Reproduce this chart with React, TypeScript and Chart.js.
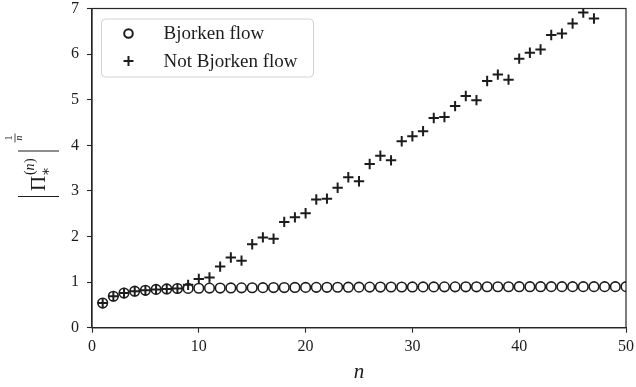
import React, { useEffect, useRef } from "react";
import { Chart, registerables } from "chart.js";

Chart.register(...registerables);

// n = 1 .. 50
const bjorkenFlow: number[] = [
  0.54, 0.69, 0.76, 0.8, 0.82, 0.84, 0.85, 0.86, 0.862, 0.865,
  0.868, 0.87, 0.872, 0.874, 0.876, 0.878, 0.88, 0.881, 0.883, 0.884,
  0.885, 0.886, 0.887, 0.888, 0.889, 0.89, 0.891, 0.892, 0.893, 0.894,
  0.895, 0.895, 0.896, 0.896, 0.897, 0.897, 0.898, 0.898, 0.898, 0.899,
  0.899, 0.899, 0.9, 0.9, 0.9, 0.9, 0.9, 0.9, 0.9, 0.9,
];

// n = 1 .. 47 (higher n leave the plotted range)
const notBjorkenFlow: number[] = [
  0.54, 0.69, 0.76, 0.8, 0.82, 0.84, 0.85, 0.86, 0.94, 1.07,
  1.1, 1.34, 1.54, 1.47, 1.83, 1.98, 1.95, 2.32, 2.42, 2.51,
  2.81, 2.83, 3.07, 3.3, 3.21, 3.59, 3.77, 3.67, 4.09, 4.2,
  4.31, 4.6, 4.62, 4.86, 5.08, 4.99, 5.41, 5.55, 5.44, 5.9,
  6.03, 6.1, 6.42, 6.45, 6.67, 6.91, 6.78,
];

const legendLabels: string[] = ["Bjorken flow", "Not Bjorken flow"];
const xTickStep = 10;
const yTickStep = 1;
const xRange: number[] = [0, 50];
const yRange: number[] = [0, 7];

const SERIF = "'Liberation Serif', 'DejaVu Serif', serif";
const INK = "#1c1c1c";

const toPoints = (vals: number[]) => vals.map((v, i) => ({ x: i + 1, y: v }));

const framePlugin = {
  id: "frame",
  afterDatasetsDraw(chart: any) {
    const { ctx, chartArea: a } = chart;
    ctx.save();
    ctx.strokeStyle = "#262626";
    ctx.lineWidth = 1.2;
    ctx.strokeRect(a.left, a.top, a.right - a.left, a.bottom - a.top);
    ctx.restore();
  },
};

const legendPlugin = {
  id: "innerLegend",
  afterDraw(chart: any) {
    const { ctx, chartArea: a } = chart;
    const bx = a.left + 9.5;
    const by = a.top + 10.5;
    const bw = 212;
    const bh = 58;
    ctx.save();
    ctx.beginPath();
    (ctx as any).roundRect(bx, by, bw, bh, 4);
    ctx.fillStyle = "rgba(255,255,255,0.85)";
    ctx.fill();
    ctx.strokeStyle = "#d2d2d2";
    ctx.lineWidth = 1;
    ctx.stroke();

    const mx = bx + 27;
    const y1 = by + 14.5;
    const y2 = by + 42;
    ctx.strokeStyle = INK;
    ctx.lineWidth = 2;
    ctx.beginPath();
    ctx.arc(mx, y1, 4.3, 0, Math.PI * 2);
    ctx.stroke();
    ctx.beginPath();
    ctx.moveTo(mx - 5, y2);
    ctx.lineTo(mx + 5, y2);
    ctx.moveTo(mx, y2 - 5);
    ctx.lineTo(mx, y2 + 5);
    ctx.stroke();

    ctx.fillStyle = INK;
    ctx.font = `19px ${SERIF}`;
    ctx.textBaseline = "middle";
    ctx.textAlign = "left";
    ctx.fillText(legendLabels[0], bx + 62, y1 + 1);
    ctx.fillText(legendLabels[1], bx + 62, y2 + 1);
    ctx.restore();
  },
};

const axisTitlePlugin = {
  id: "axisTitles",
  afterDraw(chart: any) {
    const { ctx, chartArea: a } = chart;
    ctx.save();
    ctx.fillStyle = INK;
    // x title
    ctx.font = `italic 21px ${SERIF}`;
    ctx.textAlign = "center";
    ctx.textBaseline = "alphabetic";
    ctx.fillText("n", (a.left + a.right) / 2, 378);

    // y title: |Π_*^(n)|^(1/n), rotated
    ctx.translate(45, 198);
    ctx.rotate(-Math.PI / 2);
    ctx.textAlign = "left";
    ctx.strokeStyle = INK;
    ctx.lineWidth = 1.2;
    ctx.beginPath();
    ctx.moveTo(1.5, -27);
    ctx.lineTo(1.5, 14);
    ctx.moveTo(47, -27);
    ctx.lineTo(47, 14);
    ctx.stroke();
    ctx.font = `21px ${SERIF}`;
    ctx.fillText("Π", 7, 0);
    ctx.font = `14px ${SERIF}`;
    ctx.fillText("∗", 22, 5);
    ctx.font = `14px ${SERIF}`;
    ctx.fillText("(", 23, -11);
    ctx.font = `italic 14px ${SERIF}`;
    ctx.fillText("n", 27.5, -11);
    ctx.font = `14px ${SERIF}`;
    ctx.fillText(")", 35, -11);
    // fraction 1/n
    ctx.font = `10px ${SERIF}`;
    ctx.textAlign = "center";
    ctx.fillText("1", 60, -33);
    ctx.beginPath();
    ctx.lineWidth = 0.8;
    ctx.moveTo(55.5, -30);
    ctx.lineTo(64.5, -30);
    ctx.stroke();
    ctx.font = `italic 10px ${SERIF}`;
    ctx.fillText("n", 60, -23);
    ctx.restore();
  },
};

export default function App() {
  const canvasRef = useRef<HTMLCanvasElement | null>(null);

  useEffect(() => {
    if (!canvasRef.current) return;
    const tickFont = { family: SERIF, size: 16, lineHeight: 1 };
    const chart = new Chart(canvasRef.current, {
      type: "scatter",
      data: {
        datasets: [
          {
            label: legendLabels[0],
            data: toPoints(bjorkenFlow),
            pointStyle: "circle",
            pointRadius: 4.8,
            pointBorderWidth: 1.6,
            pointBorderColor: INK,
            pointBackgroundColor: "rgba(0,0,0,0)",
            clip: 0,
          } as any,
          {
            label: legendLabels[1],
            data: toPoints(notBjorkenFlow),
            pointStyle: "cross",
            pointRadius: 5.2,
            pointBorderWidth: 2,
            pointBorderColor: INK,
            pointBackgroundColor: INK,
            clip: 0,
          } as any,
        ],
      },
      options: {
        animation: false,
        responsive: false,
        events: [],
        layout: { padding: { top: 8.5, right: 10, left: 0, bottom: 0 } },
        plugins: { legend: { display: false }, tooltip: { enabled: false } },
        scales: {
          x: {
            type: "linear",
            min: xRange[0],
            max: xRange[1],
            ticks: { stepSize: xTickStep, font: tickFont, color: INK, padding: 6, maxRotation: 0 },
            grid: { drawOnChartArea: false, drawTicks: true, tickLength: 5, tickColor: "#262626", tickWidth: 1.1 },
            border: { color: "#262626", width: 1.2 },
            afterFit: (s: any) => {
              s.height = 59.3;
              s.paddingLeft = 0;
              s.paddingRight = 0;
            },
          },
          y: {
            type: "linear",
            min: yRange[0],
            max: yRange[1],
            ticks: { stepSize: yTickStep, font: tickFont, color: INK, padding: 8 },
            grid: { drawOnChartArea: false, drawTicks: true, tickLength: 5, tickColor: "#262626", tickWidth: 1.1 },
            border: { color: "#262626", width: 1.2 },
            afterFit: (s: any) => {
              s.width = 92;
              s.paddingTop = 0;
              s.paddingBottom = 0;
            },
          },
        },
      } as any,
      plugins: [framePlugin, legendPlugin, axisTitlePlugin],
    });
    return () => chart.destroy();
  }, []);

  return (
    <div style={{ position: "fixed", left: 0, top: 0, width: 636, height: 387, background: "#fff" }}>
      <canvas ref={canvasRef} width={636} height={387} style={{ display: "block" }} />
    </div>
  );
}
